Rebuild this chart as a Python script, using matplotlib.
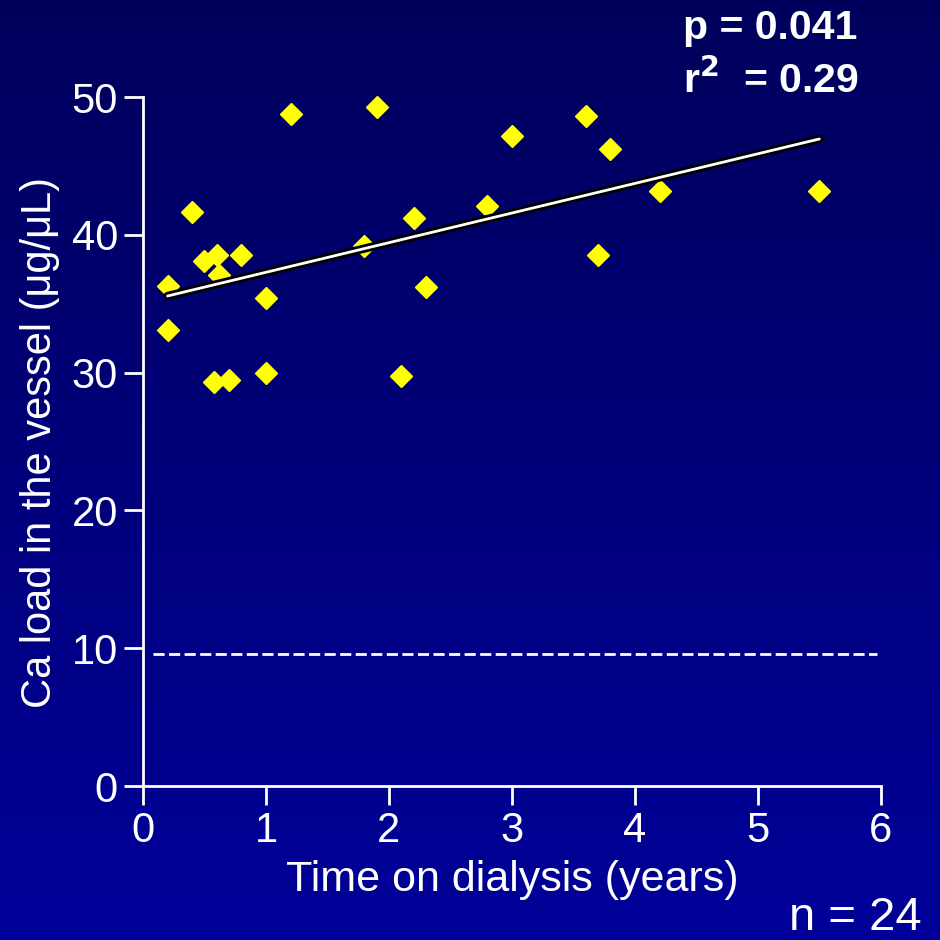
import numpy as np
import matplotlib
matplotlib.use("Agg")
import matplotlib.pyplot as plt
import matplotlib.patheffects as pe

plt.rcParams['font.family'] = ['Liberation Sans', 'DejaVu Sans']

# time on dialysis (years) and vessel Ca load (ug/uL), n = 24
years = [0.2, 0.2, 0.4, 0.5, 0.6, 0.62, 0.8, 0.58, 0.7, 1.0, 1.0, 1.2,
         1.8, 1.9, 2.1, 2.2, 2.3, 2.8, 3.0, 3.6, 3.7, 3.8, 4.2, 5.5]
ca_load = [36.3, 33.1, 41.65, 38.1, 38.5, 37.1, 38.5, 29.3, 29.5, 35.4, 30.0, 48.8,
           39.2, 49.3, 29.75, 41.2, 36.2, 42.1, 47.2, 48.6, 38.5, 46.2, 43.2, 43.2]

# regression line
fit_slope = 2.15
fit_intercept = 35.13
fit_range = [0.2, 5.5]

# reference level (dashed)
ref_level = 9.6

x_ticks = [0, 1, 2, 3, 4, 5, 6]
y_ticks = [0, 10, 20, 30, 40, 50]

fig = plt.figure(figsize=(9.4, 9.4), dpi=100)

# blue gradient background
bg = fig.add_axes([0, 0, 1, 1], zorder=-10)
grad = np.linspace(0, 1, 256)
cols = np.zeros((256, 1, 3))
cols[:, 0, 2] = 0.36 + 0.24 * grad
bg.imshow(cols, aspect='auto', extent=[0, 1, 0, 1], origin='upper')
bg.axis('off')

ax = fig.add_axes([0.1521, 0.1638, 0.785, 0.733])
ax.patch.set_alpha(0)

ax.plot(years, ca_load, linestyle='none', marker='D', markersize=11,
        color='#ffff00', clip_on=False, zorder=3)

fx = np.array(fit_range)
ax.plot(fx, fit_slope * fx + fit_intercept, color='white', lw=2,
        solid_capstyle='round', zorder=4,
        path_effects=[pe.Stroke(linewidth=6, foreground='black'), pe.Normal()])

ax.plot([0.08, 5.97], [ref_level, ref_level], color='white', lw=2,
        dashes=(4, 1.6), zorder=2)

ax.set_xlim(0, 6)
ax.set_ylim(0, 50)
ax.set_xticks(x_ticks)
ax.set_yticks(y_ticks)
for s in ['top', 'right']:
    ax.spines[s].set_visible(False)
for s in ['left', 'bottom']:
    ax.spines[s].set_color('white')
    ax.spines[s].set_linewidth(2)
ax.tick_params(colors='white', width=2, length=14, labelsize=30, pad=4)

fig.text(40 / 940, 1 - 442 / 940, 'Ca load in the vessel (\u03bcg/\u03bcL)',
         rotation=90, color='white', fontsize=30, ha='center', va='center')
fig.text(512 / 940, 1 - 880 / 940, 'Time on dialysis (years)',
         color='white', fontsize=31, ha='center', va='center')
fig.text(922 / 940, 1 - 918 / 940, 'n = 24', color='white', fontsize=34,
         ha='right', va='center')
fig.text(683 / 940, 1 - 28 / 940, 'p = 0.041', color='white', fontsize=29.5,
         fontweight='bold', ha='left', va='center')
fig.text(683 / 940, 1 - 80 / 940, 'r$^\\mathbf{2}$  = 0.29', color='white',
         fontsize=29.5, fontweight='bold', ha='left', va='center')

fig.savefig('out.png', dpi=100)
